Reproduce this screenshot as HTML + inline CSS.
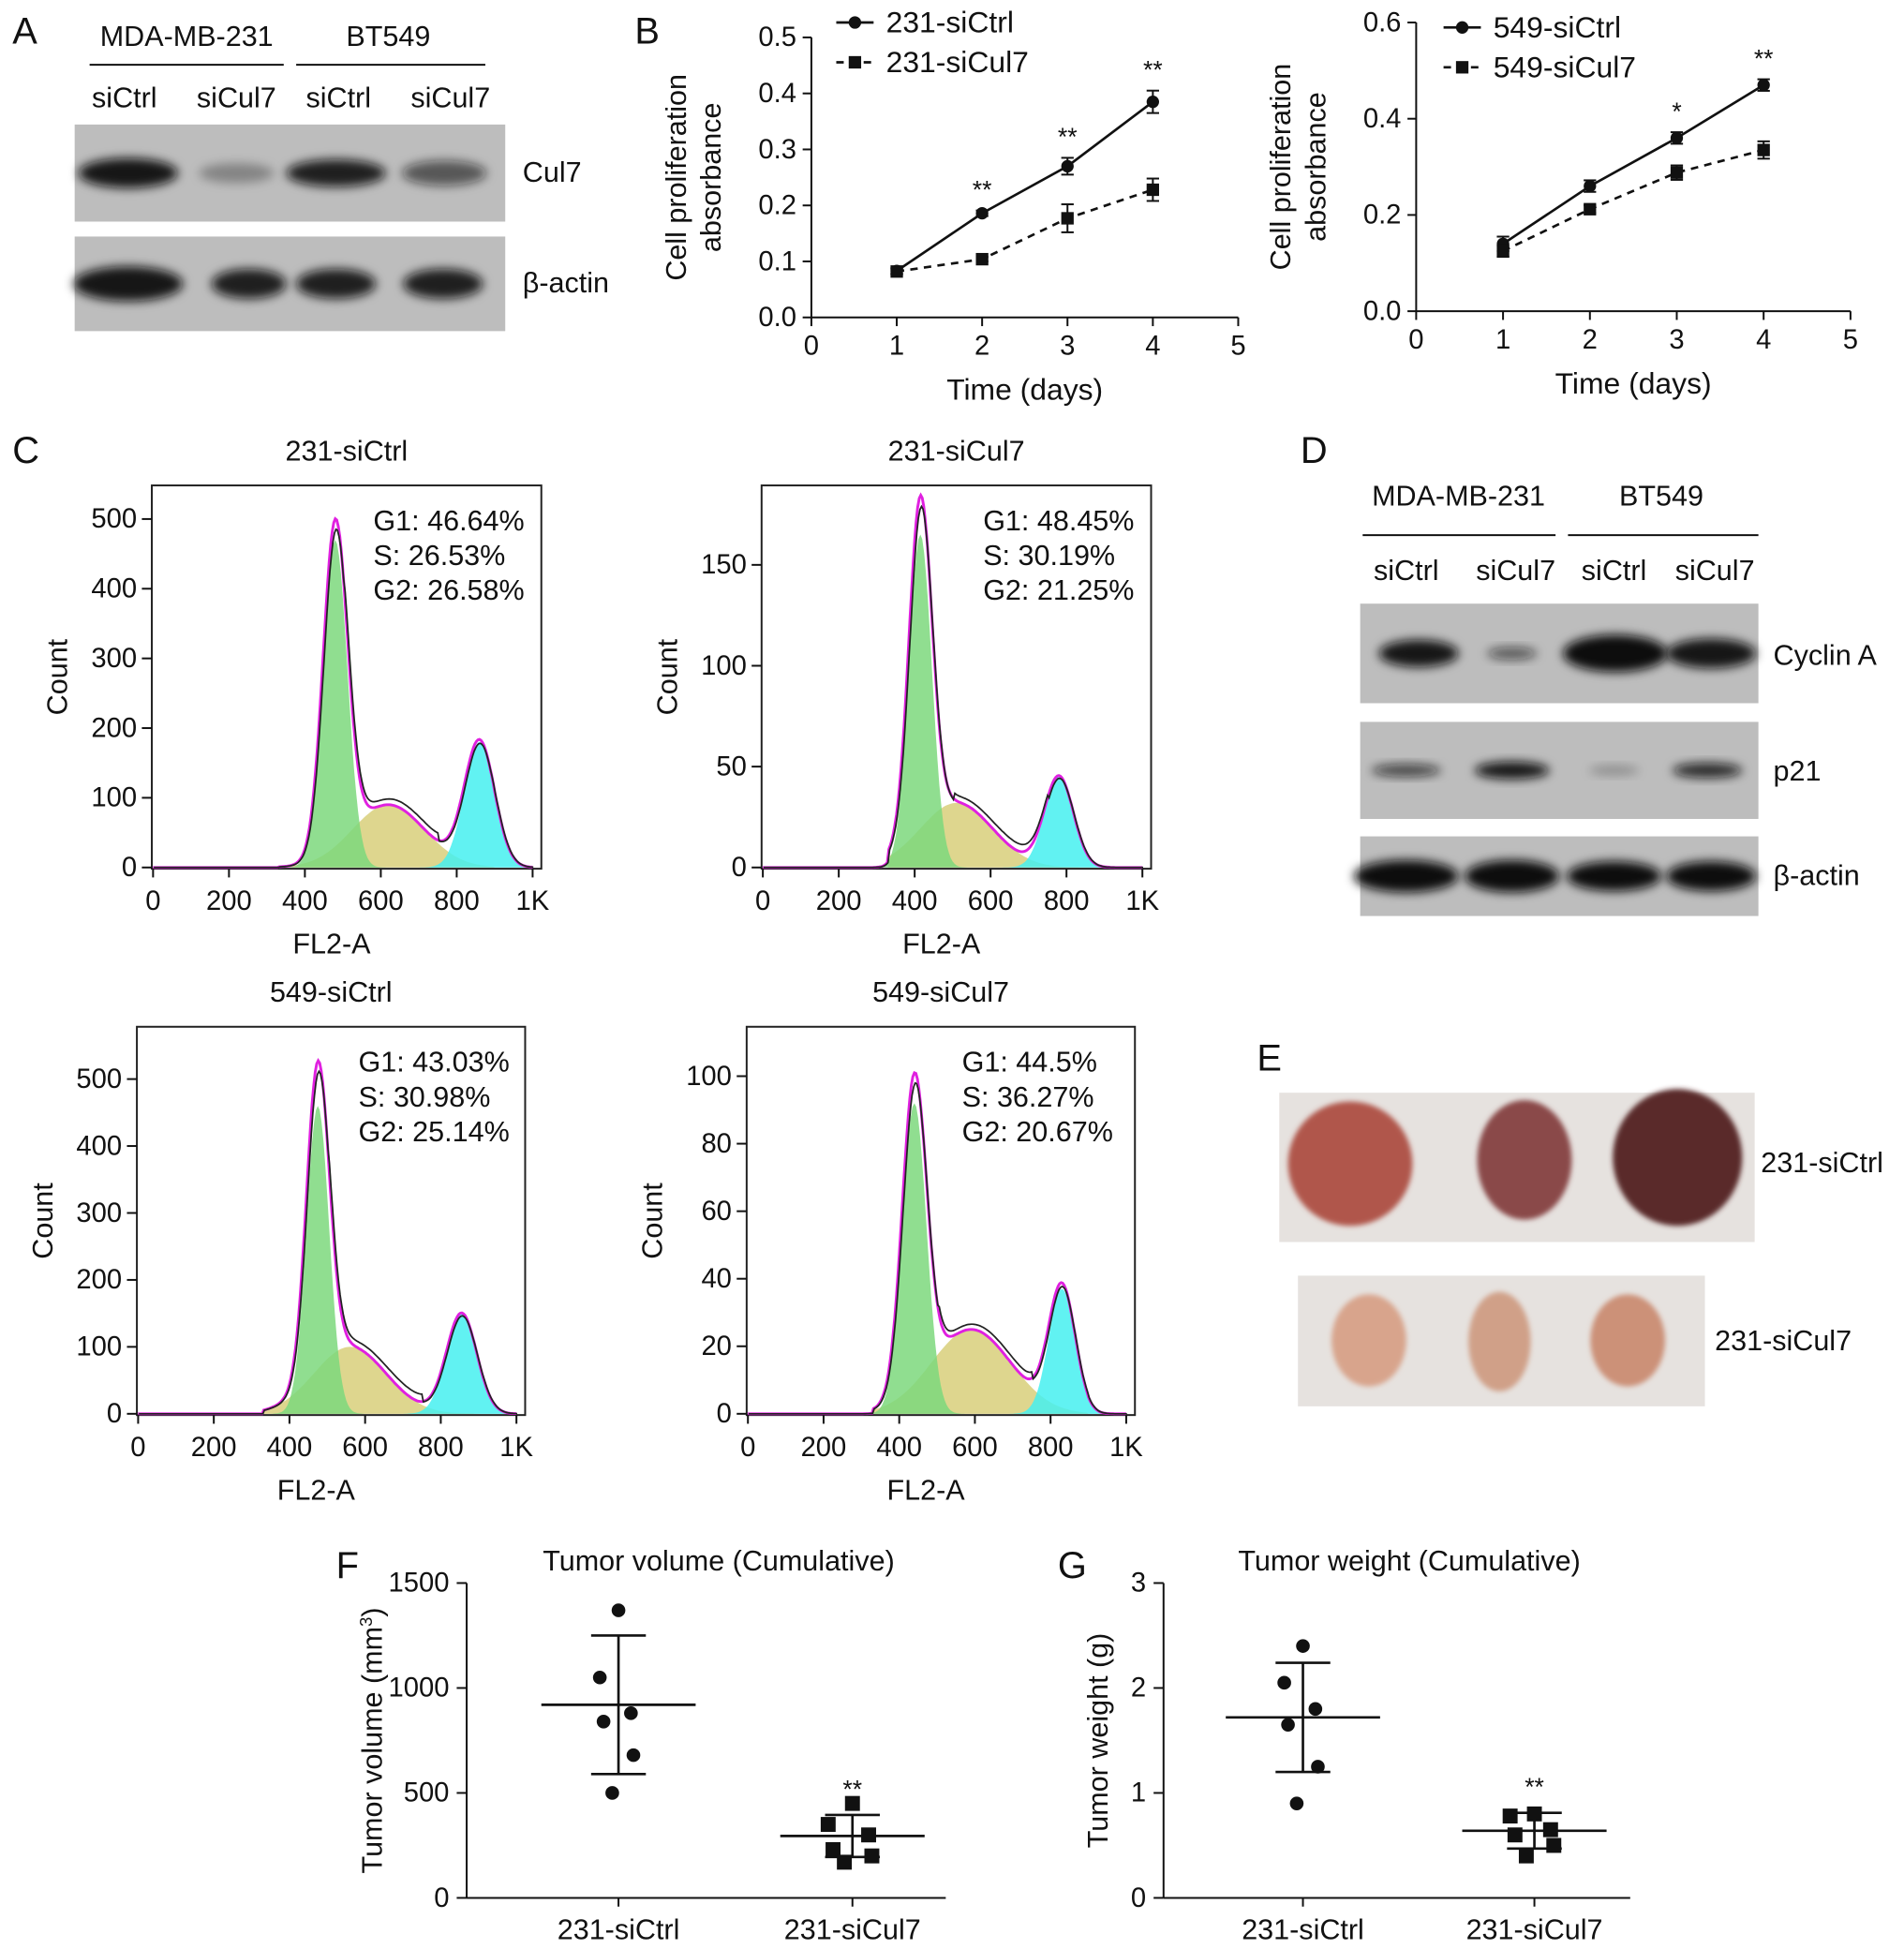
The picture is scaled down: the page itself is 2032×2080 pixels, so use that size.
<!DOCTYPE html>
<html><head><meta charset="utf-8"><style>
html,body{margin:0;padding:0;background:#fff}
svg{display:block;font-family:"Liberation Sans",Arial,sans-serif}
</style></head><body>
<svg id="fig" width="2032" height="2080" viewBox="0 0 1530 1566" xmlns="http://www.w3.org/2000/svg">
<defs>
<filter id="blur" x="-20%" y="-50%" width="140%" height="200%"><feGaussianBlur stdDeviation="4"/></filter>
<filter id="blur2"><feGaussianBlur stdDeviation="2"/></filter>
</defs>
</svg>
<script>
// ---- Panel B data ----
const bDays = [1,2,3,4];
const b231Ctrl = [0.083,0.186,0.27,0.385];
const b231CtrlErr = [0.005,0.005,0.015,0.02];
const b231Cul7 = [0.082,0.104,0.177,0.228];
const b231Cul7Err = [0.005,0.004,0.025,0.02];
const b231Stars = ['','**','**','**'];
const b549Ctrl = [0.14,0.26,0.36,0.47];
const b549CtrlErr = [0.015,0.012,0.012,0.012];
const b549Cul7 = [0.125,0.212,0.288,0.335];
const b549Cul7Err = [0.012,0.008,0.015,0.018];
const b549Stars = ['','','*','**'];
const b231YTicks = [0,0.1,0.2,0.3,0.4,0.5];
const b549YTicks = [0,0.2,0.4,0.6];
const bXTicks = [0,1,2,3,4,5];
// ---- Panel C data (gaussian components: mean, height, sd) ----
const cTitles = ['231-siCtrl','231-siCul7','549-siCtrl','549-siCul7'];
const cStats = [['G1: 46.64%','S: 26.53%','G2: 26.58%'],['G1: 48.45%','S: 30.19%','G2: 21.25%'],['G1: 43.03%','S: 30.98%','G2: 25.14%'],['G1: 44.5%','S: 36.27%','G2: 20.67%']];
const cG1 = [[480,470,32],[415,165,30],[475,460,30],[440,92,32]];
const cS = [[620,90,95],[510,32,95],[560,100,95],[590,25,105]];
const cG2 = [[860,180,40],[780,45,38],[855,150,40],[830,37,35]];
const cYTicks = [[0,100,200,300,400,500],[0,50,100,150],[0,100,200,300,400,500],[0,20,40,60,80,100]];
const cYMax = [550,190,580,115];
const cXTicks = [0,200,400,600,800,1000];
const cXLabels = ['0','200','400','600','800','1K'];
// ---- Panel F/G data ----
const fGroups = ['231-siCtrl','231-siCul7'];
const fCtrl = [1370,1050,880,840,680,500];
const fCul7 = [450,350,300,230,200,170];
const fMean = [920,295];
const fSd = [330,100];
const fYTicks = [0,500,1000,1500];
const gCtrl = [2.4,2.05,1.8,1.65,1.25,0.9];
const gCul7 = [0.8,0.78,0.65,0.6,0.5,0.4];
const gMean = [1.72,0.64];
const gSd = [0.52,0.17];
const gYTicks = [0,1,2,3];

const NS='http://www.w3.org/2000/svg';
const svg=document.getElementById('fig');
function mk(tag,attrs,parent,txt){const e=document.createElementNS(NS,tag);for(const k in attrs)e.setAttribute(k,attrs[k]);if(txt!==undefined)e.textContent=txt;(parent||svg).appendChild(e);return e;}
function txt(x,y,s,size,anchor,name,parent,extra){const e=mk('text',Object.assign({x:x,y:y,'font-size':size,'text-anchor':anchor||'start',fill:'#111'},extra||{}),parent,s);

return e;}
function line(x1,y1,x2,y2,w,parent,dash){return mk('line',{x1,y1,x2,y2,stroke:'#111','stroke-width':w||1.5,'stroke-dasharray':dash||'none'},parent);}

// Panel letters
[['A',10,35],['B',510,35],['C',10,372],['D',1045,372],['E',1010,860],['F',270,1268],['G',850,1268]].forEach(p=>{txt(p[1],p[2],p[0],30,'start','panel-label-'+p[0].toLowerCase());});

// ---- Western blots ----
function blot(x,y,w,h,bands,name){
 const g=mk('g',{});
 
 
 mk('rect',{x,y,width:w,height:h,fill:'#bdbdbd'},g);
 bands.forEach(b=>{mk('ellipse',{cx:b[0],cy:y+h/2+(b[4]||0),rx:b[1],ry:b[2],fill:'#111','fill-opacity':b[3],filter:'url(#blur)'},g);});
}
// A
txt(150,37,'MDA-MB-231',23,'middle','header-mda-mb-231');line(72,52,228,52,1.5);
txt(312,37,'BT549',23,'middle','header-bt549');line(238,52,390,52,1.5);
[['siCtrl',100],['siCul7',190],['siCtrl',272],['siCul7',362]].forEach((l,i)=>txt(l[1],86,l[0],23,'middle','lane-label-a-'+i));
blot(60,100,346,78,[[103,40,12,0.95],[190,30,8,0.3],[270,40,11,0.9],[357,34,10,0.6]],'cul7-blot-a');
blot(60,190,346,76,[[103,44,14,0.95],[200,30,12,0.9],[270,32,12,0.9],[356,32,12,0.9]],'actin-blot-a');
txt(420,146,'Cul7',23,'start','cul7-label');
txt(420,235,'β-actin',23,'start','actin-label-a');
// D
txt(1172,406,'MDA-MB-231',23,'middle','header-d-mda');line(1095,430,1250,430,1.5);
txt(1335,406,'BT549',23,'middle','header-d-bt549');line(1260,430,1413,430,1.5);
[['siCtrl',1130],['siCul7',1218],['siCtrl',1297],['siCul7',1378]].forEach((l,i)=>txt(l[1],466,l[0],23,'middle','lane-label-d-'+i));
blot(1093,485,320,80,[[1140,32,11,0.95],[1215,20,5,0.6],[1298,42,15,1],[1375,36,12,0.95]],'cyclin-a-blot');
blot(1093,580,320,78,[[1130,28,5,0.7],[1215,30,7,0.95],[1297,20,4,0.25],[1372,28,6,0.85]],'p21-blot');
blot(1093,672,320,64,[[1130,42,13,1],[1215,38,13,1],[1297,38,12,1],[1375,36,12,1]],'actin-blot-d');
txt(1425,534,'Cyclin A',23,'start','cyclin-a-label');
txt(1425,627,'p21',23,'start','p21-label');
txt(1425,711,'β-actin',23,'start','actin-label-d');

// ---- Panel B ----
function lineChart(o){
 const X=v=>o.x0+(v-0)*(o.x1-o.x0)/5, Y=v=>o.y0-(v/o.ymax)*(o.y0-o.y1);
 const g=mk('g',{});
 
 
 line(o.x0,o.y0,o.x0,o.y1,1.5,g);line(o.x0,o.y0,o.x1,o.y0,1.5,g);
 o.yt.forEach(t=>{line(o.x0-7,Y(t),o.x0,Y(t),1.5,g);txt(o.x0-12,Y(t)+7,t.toFixed(1),22,'end','y-tick-label',g);});
 bXTicks.forEach(t=>{line(X(t),o.y0,X(t),o.y0+7,1.5,g);txt(X(t),o.y0+30,String(t),22,'middle','x-tick-label',g);});
 txt((o.x0+o.x1)/2,o.y0+66,'Time (days)',24,'middle','x-axis-title',g);
 const ty=(o.y0+o.y1)/2, tx=o.x0-85;
 txt(0,0,'Cell proliferation',23,'middle','y-axis-title',g,{transform:`translate(${tx-16},${ty}) rotate(-90)`});
 txt(0,0,'absorbance',23,'middle','y-axis-title-2',g,{transform:`translate(${tx+12},${ty}) rotate(-90)`});
 [[o.c,o.ce,'none','circle'],[o.k,o.ke,'6,5','square']].forEach(s=>{
  const pts=bDays.map((d,i)=>X(d)+','+Y(s[0][i])).join(' ');
  const pl=mk('polyline',{points:pts,fill:'none',stroke:'#111','stroke-width':2,'stroke-dasharray':s[2]},g);
  
  
  bDays.forEach((d,i)=>{
   const cx=X(d),cy=Y(s[0][i]),e=s[1][i];
   line(cx,Y(s[0][i]+e),cx,Y(s[0][i]-e),1.5,g);line(cx-5,Y(s[0][i]+e),cx+5,Y(s[0][i]+e),1.5,g);line(cx-5,Y(s[0][i]-e),cx+5,Y(s[0][i]-e),1.5,g);
   const m=s[3]=='circle'?mk('circle',{cx,cy,r:5,fill:'#111'},g):mk('rect',{x:cx-5,y:cy-5,width:10,height:10,fill:'#111'},g);
   
   
  });
 });
 bDays.forEach((d,i)=>{if(o.st[i])txt(X(d),Y(o.c[i]+o.ce[i])-10,o.st[i],20,'middle','significance-star',g);});
 const lx=o.lx,ly=o.ly;
 line(lx,ly,lx+30,ly,2,g);mk('circle',{cx:lx+15,cy:ly,r:5,fill:'#111'},g);txt(lx+40,ly+8,o.l1,24,'start','legend-entry-ctrl',g);
 line(lx,ly+32,lx+30,ly+32,2,g,'6,5');mk('rect',{x:lx+10,y:ly+27,width:10,height:10,fill:'#111'},g);txt(lx+40,ly+40,o.l2,24,'start','legend-entry-cul7',g);
}
lineChart({name:'proliferation-chart-231',x0:652,x1:995,y0:255,y1:30,ymax:0.5,yt:b231YTicks,c:b231Ctrl,ce:b231CtrlErr,k:b231Cul7,ke:b231Cul7Err,st:b231Stars,lx:672,ly:18,l1:'231-siCtrl',l2:'231-siCul7'});
lineChart({name:'proliferation-chart-549',x0:1138,x1:1487,y0:250,y1:18,ymax:0.6,yt:b549YTicks,c:b549Ctrl,ce:b549CtrlErr,k:b549Cul7,ke:b549Cul7Err,st:b549Stars,lx:1160,ly:22,l1:'549-siCtrl',l2:'549-siCul7'});

// ---- Panel C histograms ----
const cBoxes=[[122,390,435,698],[612,390,925,698],[110,825,422,1137],[600,825,912,1137]];
function gauss(p,v){return p[1]*Math.exp(-0.5*Math.pow((v-p[0])/p[2],2));}
cBoxes.forEach((b,k)=>{
 const [x0,y0,x1,y1]=b;
 const g=mk('g',{});
 
 
 const X=v=>x0+1+v*(x1-x0-8)/1000, Y=v=>y1-1-v*(y1-y0)/cYMax[k];
 mk('rect',{x:x0,y:y0,width:x1-x0,height:y1-y0,fill:'#fff',stroke:'#222','stroke-width':1.5},g);
 const comps=[[cS[k],'#d8cf7a'],[cG1[k],'#7dd87d'],[cG2[k],'#45f0f0']];
 comps.forEach((c,ci)=>{
  let d=`M${X(0)},${Y(0)}`;
  for(let v=0;v<=1000;v+=5){const gv=ci==0?Math.max(0,gauss(c[0],v)*(v>330&&v<900?1:0)):gauss(c[0],v);d+=` L${X(v).toFixed(1)},${Y(gv).toFixed(1)}`;}
  d+=` L${X(1000)},${Y(0)} Z`;
  const p=mk('path',{d,fill:c[1],'fill-opacity':0.85},g);
  
  
 });
 let d1='',d2='';
 for(let v=0;v<=1000;v+=4){
  const sv=(v>330&&v<900)?gauss(cS[k],v):0;
  const t=gauss(cG1[k],v)+sv+gauss(cG2[k],v);
  d1+=(v?' L':'M')+X(v).toFixed(1)+','+Y(t).toFixed(1);
  d2+=(v?' L':'M')+X(v+2).toFixed(1)+','+Y(t*0.97+(v>500&&v<750?cYMax[k]*0.02:0)).toFixed(1);
 }
 const fit=mk('path',{d:d1,fill:'none',stroke:'#e020e0','stroke-width':2.2},g);
 
 
 const raw=mk('path',{d:d2,fill:'none',stroke:'#222','stroke-width':1.3},g);
 
 
 cYTicks[k].forEach(t=>{line(x0-8,Y(t),x0,Y(t),1.5,g);txt(x0-12,Y(t)+7,String(t),22,'end','y-tick-label',g);});
 cXTicks.forEach((t,i)=>{line(X(t),y1,X(t),y1+7,1.5,g);txt(X(t),y1+33,cXLabels[i],22,'middle','x-tick-label',g);});
 txt((x0+x1)/2-12,y1+68,'FL2-A',23,'middle','x-axis-title',g);
 txt(0,0,'Count',23,'middle','y-axis-title',g,{transform:`translate(${x0-68},${(y0+y1)/2}) rotate(-90)`});
 txt((x0+x1)/2,y0-20,cTitles[k],23,'middle','histogram-title',g);
 cStats[k].forEach((s,i)=>txt(x0+178+(k==3?-5:0),y0+36+i*28,s,23,'start','phase-stat',g));
});

// ---- Panel E photos ----
function photo(x,y,w,h,tumors,name){
 const g=mk('g',{});
 
 
 mk('rect',{x,y,width:w,height:h,fill:'#e6e2df'},g);
 tumors.forEach(t=>{mk('ellipse',{cx:t[0],cy:t[1],rx:t[2],ry:t[3],fill:t[4],filter:'url(#blur2)'},g);});
}
photo(1028,878,382,120,[[1085,935,50,50,'#b0574c'],[1225,932,38,48,'#8a4a4a'],[1348,930,52,55,'#5a2a2c']],'tumor-photo-ctrl');
photo(1043,1025,327,105,[[1100,1077,30,37,'#d8a48c'],[1205,1078,25,40,'#d0a088'],[1308,1077,30,37,'#cc9178']],'tumor-photo-cul7');
txt(1415,942,'231-siCtrl',23,'start','tumor-label-ctrl');
txt(1378,1085,'231-siCul7',23,'start','tumor-label-cul7');

// ---- Panel F/G scatter ----
function scatter(o){
 const g=mk('g',{});
 
 
 const Y=v=>o.y0-v/o.ymax*(o.y0-o.y1);
 line(o.x0,o.y0,o.x0,o.y1,1.5,g);line(o.x0,o.y0,o.xe,o.y0,1.5,g);
 o.yt.forEach(t=>{line(o.x0-8,Y(t),o.x0,Y(t),1.5,g);txt(o.x0-14,Y(t)+7,String(t),22,'end','y-tick-label',g);});
 o.cx.forEach((cx,i)=>{line(cx,o.y0,cx,o.y0+7,1.5,g);txt(cx,o.y0+33,fGroups[i],23,'middle','x-category-label',g);});
 txt((o.x0+o.xe)/2+10,o.y1-10,o.title,23,'middle','chart-title',g);
 const yt=txt(0,0,'',23,'middle','y-axis-title',g,{transform:`translate(${o.x0-o.yoff},${(o.y0+o.y1)/2}) rotate(-90)`});
 yt.innerHTML=o.ylab;
 [o.a,o.b].forEach((arr,gi)=>{
  const cx=o.cx[gi],m=o.mean[gi],s=o.sd[gi],hw=gi==0?62:58;
  line(cx-hw,Y(m),cx+hw,Y(m),2,g);line(cx,Y(m+s),cx,Y(m-s),2,g);
  line(cx-22,Y(m+s),cx+22,Y(m+s),2,g);line(cx-22,Y(m-s),cx+22,Y(m-s),2,g);
  const offs=[0,-15,10,-12,12,-5];
  arr.forEach((v,i)=>{const px=cx+offs[i]*(gi==0?1:1.3);
   const p=gi==0?mk('circle',{cx:px,cy:Y(v),r:5.5,fill:'#111'},g):mk('rect',{x:px-6,y:Y(v)-6,width:12,height:12,fill:'#111'},g);
   
   });
  if(gi==1)txt(cx,Y(m+s)-14,'**',20,'middle','significance-star',g);
 });
}
scatter({name:'tumor-volume-chart',x0:375,xe:760,y0:1525,y1:1272,ymax:1500,yt:fYTicks,cx:[497,685],a:fCtrl,b:fCul7,mean:fMean,sd:fSd,yoff:62+6,title:'Tumor volume (Cumulative)',ylab:'Tumor volume (mm<tspan dy="-8" font-size="14">3</tspan><tspan dy="8">)</tspan>'});
scatter({name:'tumor-weight-chart',x0:935,xe:1310,y0:1525,y1:1272,ymax:3,yt:gYTicks,cx:[1047,1233],a:gCtrl,b:gCul7,mean:gMean,sd:gSd,yoff:45,title:'Tumor weight (Cumulative)',ylab:'Tumor weight (g)'});
</script>
</body></html>
